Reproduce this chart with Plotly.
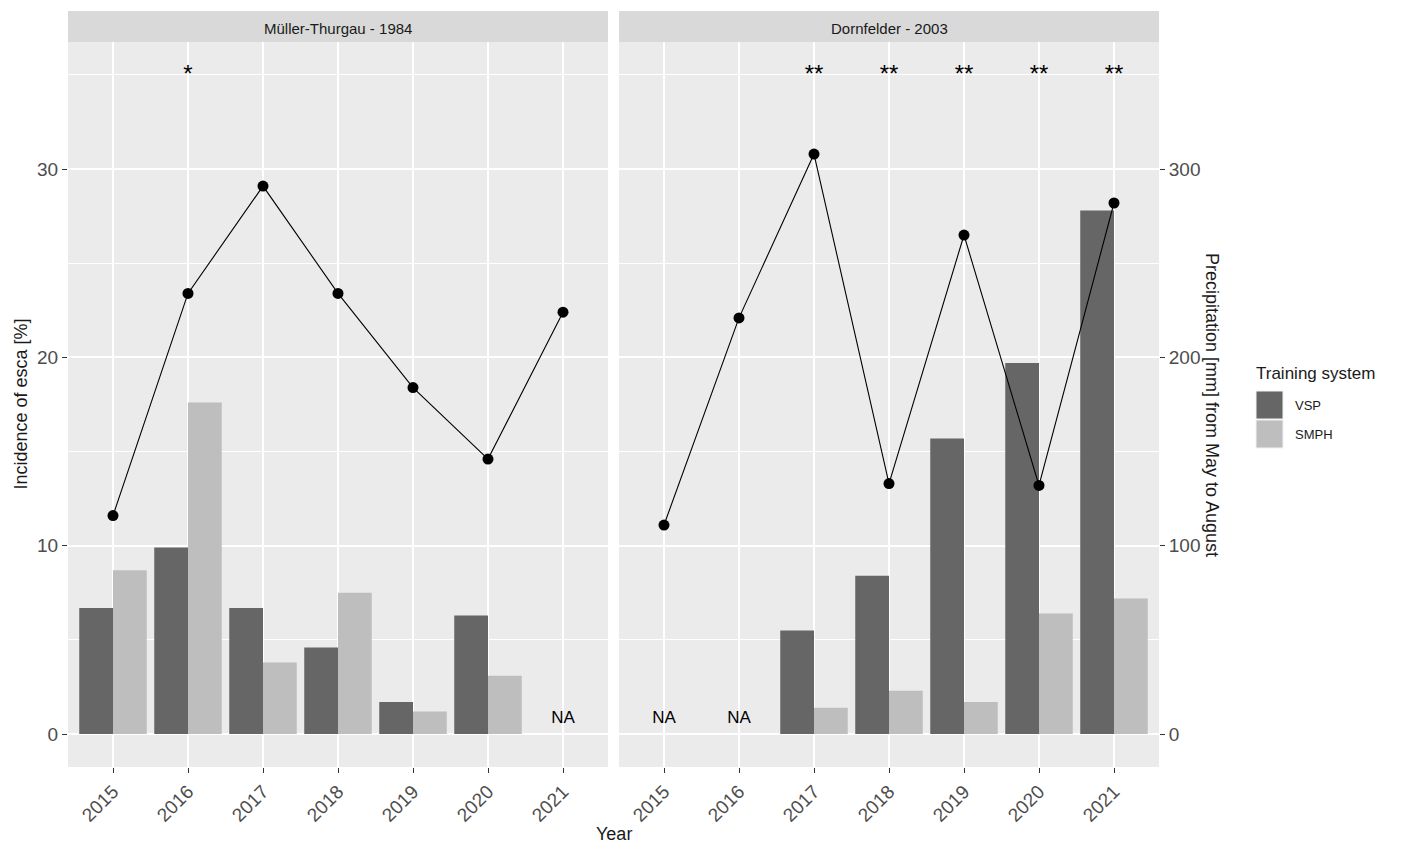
import plotly.graph_objects as go

# ---- data -------------------------------------------------------------
years = ["2015", "2016", "2017", "2018", "2019", "2020", "2021"]

# incidence of esca [%] per training system (None = not assessed)
mt_vsp = [6.7, 9.9, 6.7, 4.6, 1.7, 6.3, None]
mt_smph = [8.7, 17.6, 3.8, 7.5, 1.2, 3.1, None]
df_vsp = [None, None, 5.5, 8.4, 15.7, 19.7, 27.8]
df_smph = [None, None, 1.4, 2.3, 1.7, 6.4, 7.2]

# precipitation [mm] from May to August
mt_precip = [116, 234, 291, 234, 184, 146, 224]
df_precip = [111, 221, 308, 133, 265, 132, 282]

# significance markers
mt_sig = ["", "*", "", "", "", "", ""]
df_sig = ["", "", "**", "**", "**", "**", "**"]

panels = ["Müller-Thurgau - 1984", "Dornfelder - 2003"]
systems = ["VSP", "SMPH"]

# ---- styling ----------------------------------------------------------
W, H = 1404, 845
FONT = "Liberation Sans, Arial, sans-serif"
COL_VSP = "#666666"
COL_SMPH = "#BEBEBE"
PANEL_BG = "#EBEBEB"
STRIP_BG = "#D9D9D9"
TICK_COL = "#4D4D4D"
TEXT_COL = "#1A1A1A"
TICK_SIZE = 19

# panel geometry in pixels
P1 = (68, 608)
P2 = (619, 1159)
PTOP, PBOT = 42, 767
STRIP_TOP = 11

Y_RANGE = [-1.75, 36.75]
PRECIP_RANGE = [v * 10 for v in Y_RANGE]
STAR_Y = 34.95
NA_Y = 0.8


def px(x):
    return x / W


def py(y):
    return 1 - y / H


fig = go.Figure()

series = [
    ("x", "y", "y3", mt_vsp, mt_smph, mt_precip, mt_sig),
    ("x2", "y2", "y4", df_vsp, df_smph, df_precip, df_sig),
]

for xa, ya, ya_p, vsp, smph, precip, sig in series:
    fig.add_trace(go.Bar(x=years, y=vsp, name="VSP", marker_color=COL_VSP,
                         marker_line_width=0, xaxis=xa, yaxis=ya,
                         offsetgroup="VSP", showlegend=False))
    fig.add_trace(go.Bar(x=years, y=smph, name="SMPH", marker_color=COL_SMPH,
                         marker_line_width=0, xaxis=xa, yaxis=ya,
                         offsetgroup="SMPH", showlegend=False))
    # NA labels for years without any incidence record
    na_x = [yr for yr, a, b in zip(years, vsp, smph) if a is None and b is None]
    fig.add_trace(go.Scatter(x=na_x, y=[NA_Y] * len(na_x), mode="text",
                             text=["NA"] * len(na_x),
                             textfont=dict(family=FONT, size=17, color="black"),
                             xaxis=xa, yaxis=ya, showlegend=False, hoverinfo="skip"))
    # significance stars
    fig.add_trace(go.Scatter(x=years, y=[STAR_Y] * len(years), mode="text",
                             text=sig,
                             textfont=dict(family=FONT, size=24, color="black"),
                             xaxis=xa, yaxis=ya, showlegend=False, hoverinfo="skip"))
    # precipitation line on the secondary scale
    fig.add_trace(go.Scatter(x=years, y=precip, mode="lines+markers",
                             line=dict(color="black", width=1.1),
                             marker=dict(color="black", size=11),
                             xaxis=xa, yaxis=ya_p, showlegend=False))

xaxis_common = dict(
    type="category", categoryorder="array", categoryarray=years,
    range=[-0.6, 6.6], showgrid=True, gridcolor="white", gridwidth=1.5,
    zeroline=False, showline=False, ticks="outside", ticklen=5, tickwidth=1,
    tickcolor="#333333", tickangle=-45,
    tickfont=dict(family=FONT, size=TICK_SIZE, color=TICK_COL),
)
yaxis_common = dict(
    range=Y_RANGE, tickvals=[0, 10, 20, 30], showgrid=True, gridcolor="white",
    gridwidth=1.5, zeroline=False, showline=False,
    minor=dict(tickvals=[5, 15, 25, 35], showgrid=True, gridcolor="white",
               gridwidth=0.7, ticks=""),
    domain=[py(PBOT), py(PTOP)],
)

fig.update_layout(
    width=W, height=H,
    margin=dict(l=0, r=0, t=0, b=0),
    paper_bgcolor="white", plot_bgcolor=PANEL_BG,
    barmode="group", bargap=0.1, bargroupgap=0,
    showlegend=False,
    font=dict(family=FONT, color=TEXT_COL),
    xaxis=dict(xaxis_common, domain=[px(P1[0]), px(P1[1])], anchor="y"),
    xaxis2=dict(xaxis_common, domain=[px(P2[0]), px(P2[1])], anchor="y2"),
    yaxis=dict(yaxis_common, anchor="x", ticks="outside", ticklen=5,
               tickwidth=1, tickcolor="#333333",
               tickfont=dict(family=FONT, size=TICK_SIZE, color=TICK_COL)),
    yaxis2=dict(yaxis_common, anchor="x2", matches="y", showticklabels=False,
                ticks=""),
    yaxis3=dict(overlaying="y", anchor="x", range=PRECIP_RANGE, visible=False,
                showgrid=False, zeroline=False),
    yaxis4=dict(overlaying="y2", anchor="x2", side="right", range=PRECIP_RANGE,
                tickvals=[0, 100, 200, 300], showgrid=False, zeroline=False,
                showline=False, ticks="outside", ticklen=5, tickwidth=1,
                tickcolor="#333333",
                tickfont=dict(family=FONT, size=TICK_SIZE, color=TICK_COL)),
)

shapes = []
annotations = []

# facet strips
for (x0, x1), title in zip([P1, P2], panels):
    shapes.append(dict(type="rect", xref="paper", yref="paper",
                       x0=px(x0), x1=px(x1), y0=py(PTOP), y1=py(STRIP_TOP),
                       fillcolor=STRIP_BG, line=dict(width=0), layer="below"))
    annotations.append(dict(text=title, xref="paper", yref="paper",
                            x=px((x0 + x1) / 2), y=py(28),
                            showarrow=False, xanchor="center", yanchor="middle",
                            font=dict(family=FONT, size=15, color=TEXT_COL)))

# axis titles
annotations.append(dict(text="Incidence of esca [%]", xref="paper", yref="paper",
                        x=px(20), y=py((PTOP + PBOT) / 2), textangle=-90,
                        showarrow=False, xanchor="center", yanchor="middle",
                        font=dict(family=FONT, size=18, color=TEXT_COL)))
annotations.append(dict(text="Precipitation [mm] from May to August",
                        xref="paper", yref="paper",
                        x=px(1212), y=py(405), textangle=90,
                        showarrow=False, xanchor="center", yanchor="middle",
                        font=dict(family=FONT, size=18, color=TEXT_COL)))
annotations.append(dict(text="Year", xref="paper", yref="paper",
                        x=px((P1[0] + P2[1]) / 2), y=py(845),
                        showarrow=False, xanchor="center", yanchor="bottom",
                        borderpad=0,
                        font=dict(family=FONT, size=18, color=TEXT_COL)))

# legend
annotations.append(dict(text="Training system", xref="paper", yref="paper",
                        x=px(1254), y=py(373), showarrow=False,
                        xanchor="left", yanchor="middle",
                        font=dict(family=FONT, size=17, color=TEXT_COL)))
for i, (name, col) in enumerate(zip(systems, [COL_VSP, COL_SMPH])):
    top = 391 + i * 29
    shapes.append(dict(type="rect", xref="paper", yref="paper",
                       x0=px(1256), x1=px(1283), y0=py(top + 28), y1=py(top),
                       fillcolor=col, line=dict(color="#F2F2F2", width=1)))
    annotations.append(dict(text=name, xref="paper", yref="paper",
                            x=px(1293), y=py(top + 14), showarrow=False,
                            xanchor="left", yanchor="middle",
                            font=dict(family=FONT, size=13, color=TEXT_COL)))

fig.update_layout(shapes=shapes, annotations=annotations)

fig.write_html("out.html")
